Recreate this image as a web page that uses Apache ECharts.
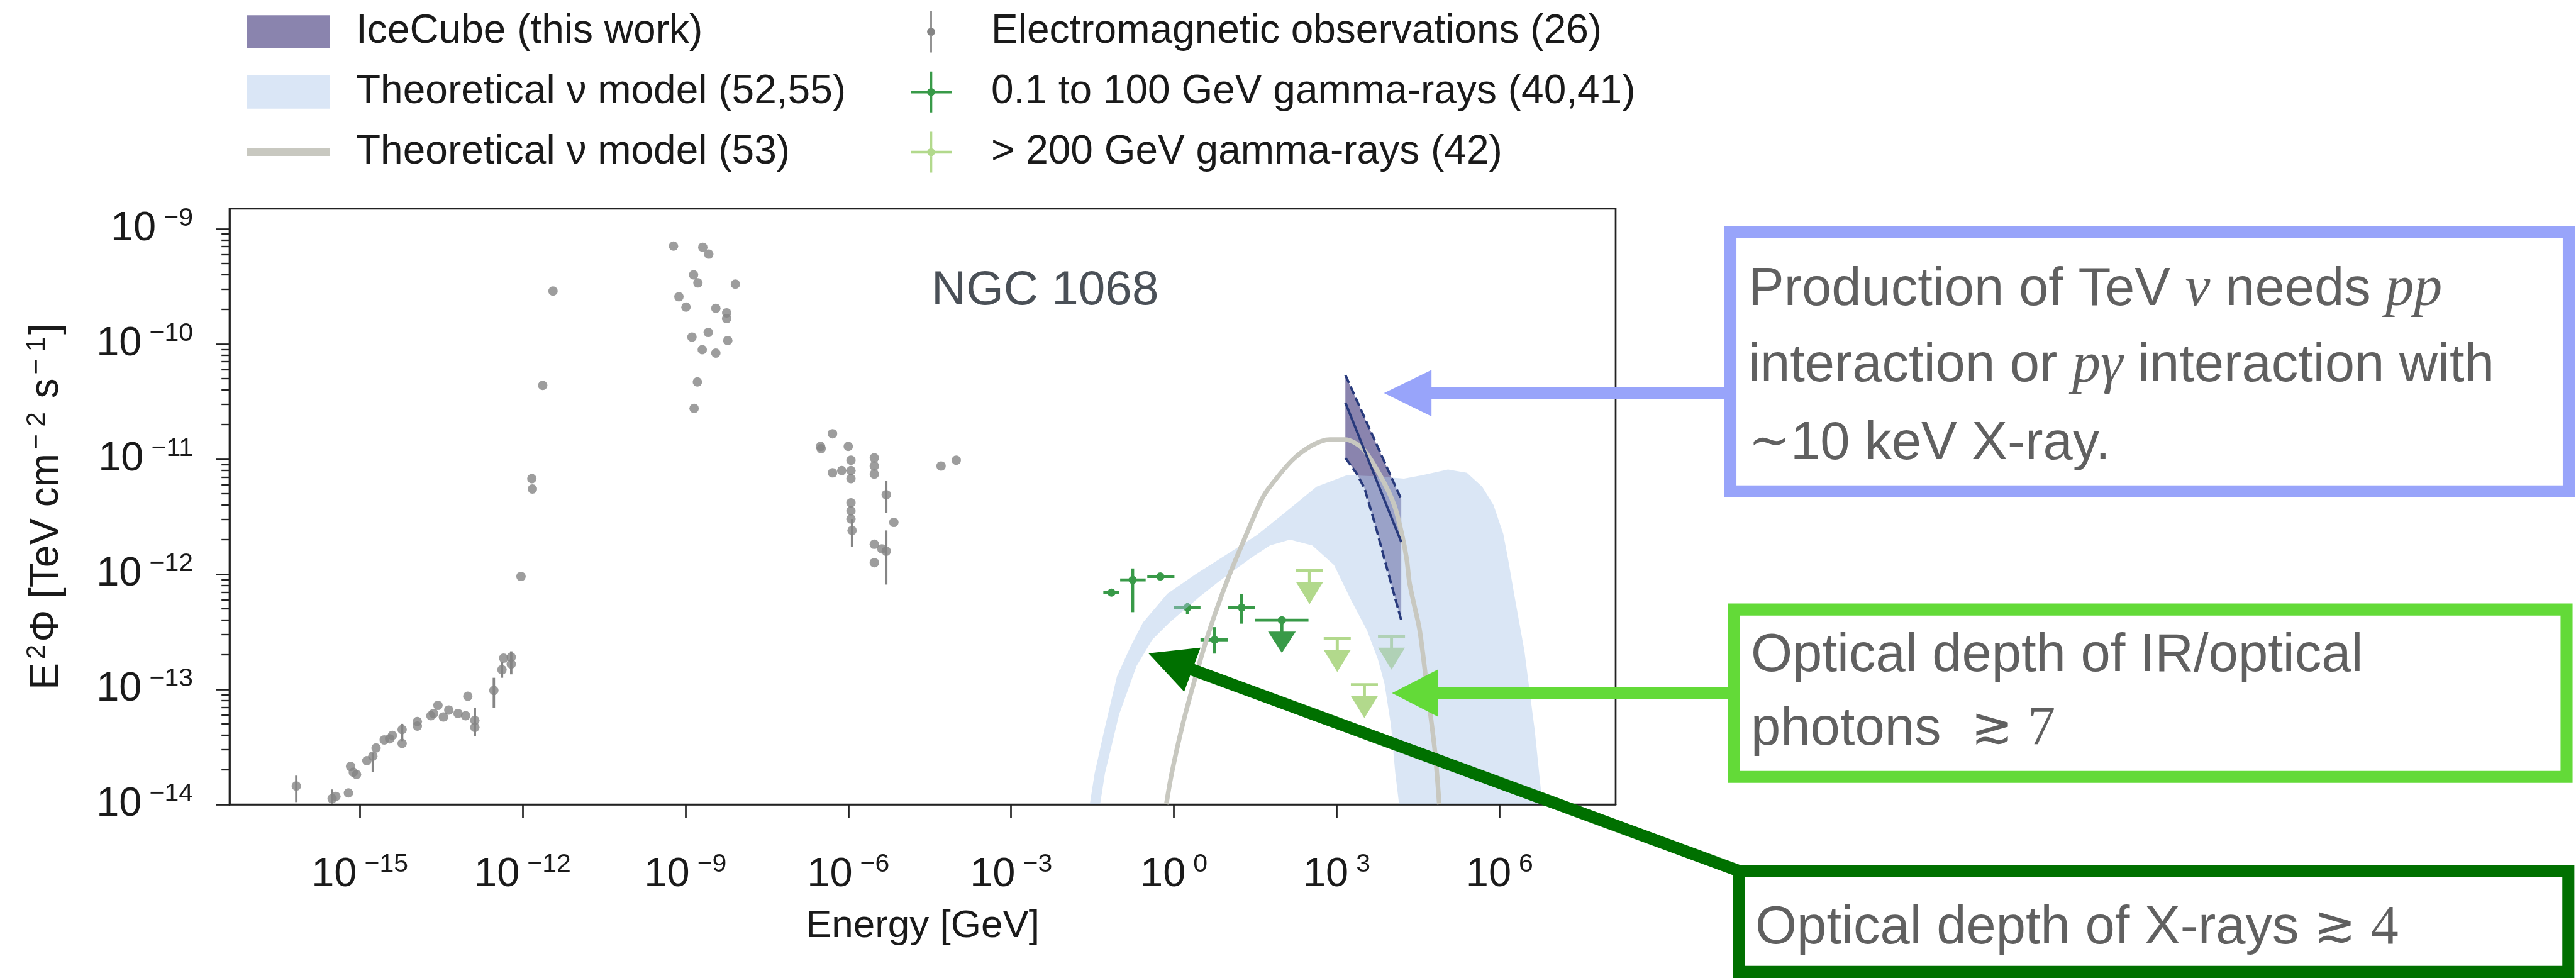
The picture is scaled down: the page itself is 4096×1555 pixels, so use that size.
<!DOCTYPE html>
<html><head><meta charset="utf-8">
<script src="https://cdn.jsdelivr.net/npm/echarts@6/dist/echarts.min.js"></script>
<style>html,body{margin:0;padding:0;background:#fff}#c{width:4096px;height:1555px}</style>
</head><body><div id="c"></div>
<script>
// ===== DATA (log10 values) =====
const xTickExp = [-15, -12, -9, -6, -3, 0, 3, 6];
const yTickExp = [-14, -13, -12, -11, -10, -9];

// Electromagnetic observations: log10(E/GeV), log10(E^2 Phi / TeV cm^-2 s^-1)
const emLogE = [-16.17,-15.51,-15.44,-15.21,-15.17,-15.12,-15.06,-14.87,-14.76,-14.70,-14.55,-14.45,-14.40,-14.22,-14.22,-13.94,-13.94,-13.69,-13.64,-13.56,-13.46,-13.36,-13.19,-13.05,-13.01,-12.88,-12.88,-12.53,-12.38,-12.35,-12.21,-12.21,-12.03,-11.83,-11.82,-11.63,-11.44,
  -9.22,-8.68,-8.57,-8.85,-8.77,-8.08,-9.12,-8.99,-8.44,-8.24,-8.24,-8.88,-8.58,-8.22,-8.69,-8.44,-8.78,-8.84,
  -6.51,-6.50,-6.29,-6.00,-6.29,-6.12,-5.95,-5.95,-5.95,-5.95,-5.95,-5.95,-5.93,-5.52,-5.52,-5.52,-5.30,-5.16,-5.52,-5.38,-5.30,-5.52,-4.29,-4.01];
const emLogF = [-13.84,-13.95,-13.93,-13.90,-13.67,-13.72,-13.74,-13.62,-13.58,-13.51,-13.44,-13.43,-13.40,-13.35,-13.47,-13.28,-13.32,-13.23,-13.21,-13.14,-13.24,-13.18,-13.21,-13.23,-13.06,-13.27,-13.33,-13.01,-12.83,-12.73,-12.72,-12.78,-12.02,-11.17,-11.26,-10.36,-9.54,
  -9.15,-9.16,-9.22,-9.40,-9.47,-9.48,-9.59,-9.68,-9.69,-9.73,-9.78,-9.94,-9.90,-9.97,-10.05,-10.08,-10.33,-10.56,
  -10.89,-10.91,-10.78,-10.89,-11.12,-11.10,-11.01,-11.10,-11.17,-11.38,-11.45,-11.52,-11.62,-10.99,-11.06,-11.13,-11.31,-11.55,-11.74,-11.78,-11.80,-11.90,-11.06,-11.01];
const emErrLogE = [-16.17,-15.51,-14.76,-14.22,-12.88,-12.53,-12.38,-12.21,-5.93,-5.30,-5.30];
const emErrLo   = [-13.98,-14.00,-13.72,-13.45,-13.41,-13.16,-12.90,-12.87,-11.76,-11.47,-12.09];
const emErrHi   = [-13.75,-13.87,-13.55,-13.30,-13.16,-12.90,-12.76,-12.67,-11.52,-11.19,-11.62];

// 0.1 to 100 GeV gamma-rays
const fermiLogE   = [-1.15,-0.76,-0.25, 0.25, 0.75, 1.25];
const fermiLogF   = [-12.16,-12.05,-12.02,-12.29,-12.57,-12.29];
const fermiLogELo = [-1.30,-0.99,-0.49, 0.00, 0.49, 1.00];
const fermiLogEHi = [-1.01,-0.52, 0.01, 0.49, 1.00, 1.49];
const fermiLogFLo = [-12.16,-12.33,-12.02,-12.35,-12.69,-12.43];
const fermiLogFHi = [-12.16,-11.95,-12.02,-12.25,-12.46,-12.17];
const fermiUlLogE = [1.99], fermiUlLogF = [-12.40], fermiUlLogELo = [1.49], fermiUlLogEHi = [2.48];

// > 200 GeV gamma-ray upper limits
const vheUlLogE = [2.50, 3.01, 3.51, 4.01];
const vheUlLogF = [-11.97,-12.56,-12.96,-12.54];

// IceCube (this work)
const icUpperLogE = [3.16, 4.19];
const icUpperLogF = [-10.27, -11.35];
const icBestLogE  = [3.16, 4.19];
const icBestLogF  = [-10.51, -11.72];
const icLowerLogE = [3.16, 3.36, 3.51, 3.71, 3.88, 4.09, 4.19];
const icLowerLogF = [-10.99,-11.12,-11.25,-11.57,-11.87,-12.23,-12.40];

// Theoretical nu model (52,55) band
const bandUpperLogE = [-1.55,-1.46,-1.29,-1.05,-0.80,-0.57,-0.12,0.40,0.97,1.53,2.06,2.63,3.19,3.71,4.24,4.58,5.05,5.40,5.68,5.89,6.07,6.17,6.28,6.46,6.65,6.79];
const bandUpperLogF = [-14.0,-13.73,-13.37,-12.89,-12.63,-12.42,-12.17,-12.00,-11.83,-11.66,-11.46,-11.24,-11.14,-11.15,-11.17,-11.14,-11.09,-11.12,-11.24,-11.40,-11.65,-11.90,-12.20,-12.67,-13.36,-14.0];
const bandLowerLogE = [-1.36,-1.27,-1.01,-0.69,-0.40,-0.08,0.49,0.81,1.13,1.42,1.77,2.14,2.55,2.95,3.27,3.56,3.76,3.88,4.00,4.08,4.15];
const bandLowerLogF = [-14.0,-13.73,-13.22,-12.80,-12.57,-12.42,-12.19,-12.07,-11.96,-11.86,-11.75,-11.70,-11.75,-11.92,-12.23,-12.49,-12.74,-12.95,-13.31,-13.73,-14.0];

// Theoretical nu model (53) curve
const grayLogE = [-0.14,-0.04,0.16,0.40,0.64,0.97,1.33,1.62,1.77,2.18,2.55,2.87,3.15,3.48,3.81,4.06,4.20,4.29,4.34,4.41,4.53,4.67,4.81,4.89];
const grayLogF = [-14.0,-13.73,-13.31,-12.89,-12.51,-12.07,-11.66,-11.35,-11.24,-11.01,-10.88,-10.83,-10.83,-10.91,-11.15,-11.40,-11.65,-11.87,-12.07,-12.23,-12.49,-13.01,-13.54,-14.0];

// ===== CHART =====
const FONT = "'Liberation Sans', Arial, Helvetica, sans-serif";
const TXT = '#1a1a1a';
const GREEN = '#389a48', LGREEN = '#b2d98c', GRAYPT = '#858585', NAVY = '#283a7c';
const N_IC = 'IceCube (this work)', N_BAND = 'Theoretical \u03bd model (52,55)', N_CURVE = 'Theoretical \u03bd model (53)';
const N_EM = 'Electromagnetic observations (26)', N_FERMI = '0.1 to 100 GeV gamma-rays (40,41)', N_VHE = '> 200 GeV gamma-rays (42)';

const zip = (a, b) => a.map((v, i) => [v, b[i]]);
function expLabel(v) { const n = Math.round(v); return '{b|10}{s|' + (n < 0 ? '\u2212' + (-n) : '' + n) + '}'; }
const tickRich = {
  b: { fontSize: 65, lineHeight: 74, fontFamily: FONT, color: TXT },
  s: { fontSize: 41, lineHeight: 41, verticalAlign: 'top', fontFamily: FONT, color: TXT, padding: [0, 0, 0, 12] }
};
const yMinor = [];
for (let n = -14; n <= -9; n++) for (let k = 2; k <= 9; k++) { const v = n + Math.log10(k); if (v < -8.826) yMinor.push(v); }

function polygonSeries(name, pts, fill, z) {
  return { name, type: 'custom', z, silent: true, data: pts, encode: { x: 0, y: 1 },
    renderItem(params, api) {
      if (params.dataIndex !== 0) return null;
      return { type: 'polygon', shape: { points: pts.map(p => api.coord(p)) }, style: { fill } };
    } };
}
const bandPts = zip(bandUpperLogE, bandUpperLogF).concat(zip(bandLowerLogE, bandLowerLogF).reverse());
const icPts = zip(icUpperLogE, icUpperLogF).concat(zip(icLowerLogE, icLowerLogF).reverse());

const ln = (a, b, c, w) => ({ type: 'line', shape: { x1: a[0], y1: a[1], x2: b[0], y2: b[1] }, style: { stroke: c, lineWidth: w } });

const fermiData = fermiLogE.map((x, i) => [x, fermiLogF[i], fermiLogELo[i], fermiLogEHi[i], fermiLogFLo[i], fermiLogFHi[i]]);
const fermiUlData = fermiUlLogE.map((x, i) => [x, fermiUlLogF[i], fermiUlLogELo[i], fermiUlLogEHi[i]]);
const vheData = zip(vheUlLogE, vheUlLogF);
const emErrData = emErrLogE.map((x, i) => [x, emErrLo[i], emErrHi[i]]);

const option = {
  animation: false,
  backgroundColor: '#ffffff',
  grid: { left: 365, right: 1527, top: 332, bottom: 276, show: true, borderColor: '#222', borderWidth: 2.7, containLabel: false, outerBoundsMode: 'none' },
  legend: [
    { orient: 'vertical', left: 387, top: 12.6, itemWidth: 132, itemHeight: 66, itemGap: 29.7, selectedMode: false,
      textStyle: { fontSize: 64, fontFamily: FONT, color: TXT, lineHeight: 66, padding: [0, 0, 0, 37] },
      data: [
        { name: N_IC, icon: 'path://M0,0H145V58H0Z', itemStyle: { color: 'rgba(60,50,120,0.6)' } },
        { name: N_BAND, icon: 'path://M0,0H145V58H0Z', itemStyle: { color: '#dae6f6' } },
        { name: N_CURVE, icon: 'path://M0,0H145V13H0Z', itemStyle: { color: '#c8c8c0' } }
      ] },
    { orient: 'vertical', left: 1443, top: 12.6, itemWidth: 65, itemHeight: 66, itemGap: 29.7, selectedMode: false,
      textStyle: { fontSize: 64, fontFamily: FONT, color: TXT, lineHeight: 66, padding: [0, 0, 0, 58] },
      data: [
        { name: N_EM, icon: 'path://M34.5,0H37.5V72H34.5Z M29,36A7,7 0 1,1 43,36A7,7 0 1,1 29,36Z', itemStyle: { color: GRAYPT } },
        { name: N_FERMI, icon: 'path://M34,0H38V72H34Z M0,33.5H72V38.5H0Z M29,36A7,7 0 1,1 43,36A7,7 0 1,1 29,36Z', itemStyle: { color: GREEN } },
        { name: N_VHE, icon: 'path://M34,0H38V72H34Z M0,33.5H72V38.5H0Z M29,36A7,7 0 1,1 43,36A7,7 0 1,1 29,36Z', itemStyle: { color: LGREEN } }
      ] }
  ],
  xAxis: [{
    type: 'value', min: -17.4, max: 8.14, position: 'bottom',
    axisLine: { show: true, onZero: false, lineStyle: { color: '#222', width: 2.7 } },
    axisTick: { show: true, inside: false, length: 22, customValues: xTickExp, lineStyle: { color: '#222', width: 2.7 } },
    axisLabel: { customValues: xTickExp, formatter: expLabel, margin: 75, rich: tickRich },
    splitLine: { show: false },
    name: 'Energy [GeV]', nameLocation: 'middle', nameGap: 163,
    nameTextStyle: { fontSize: 62, lineHeight: 62, fontFamily: FONT, color: TXT }
  }],
  yAxis: [{
    type: 'value', min: -14, max: -8.826, position: 'left',
    axisLine: { show: true, onZero: false, lineStyle: { color: '#222', width: 2.7 } },
    axisTick: { show: true, inside: false, length: 22, customValues: yTickExp, lineStyle: { color: '#222', width: 2.7 } },
    axisLabel: { customValues: yTickExp, formatter: expLabel, margin: 58, rich: tickRich },
    splitLine: { show: false },
    name: 'E{s|2}\u03a6 [TeV cm{s|\u2212 2} s{s|\u2212 1}]', nameLocation: 'middle', nameGap: 255,
    nameTextStyle: { fontSize: 64, lineHeight: 72, fontFamily: FONT, color: TXT,
      rich: { s: { fontSize: 42, lineHeight: 42, verticalAlign: 'top', fontFamily: FONT, color: TXT, padding: [0, 4, 0, 6] } } }
  }, {
    type: 'value', min: -14, max: -8.826, position: 'left',
    axisLine: { show: false, onZero: false },
    axisTick: { show: true, inside: false, length: 12.8, customValues: yMinor, lineStyle: { color: '#222', width: 2.3 } },
    axisLabel: { show: false }, splitLine: { show: false }
  }],
  series: [
    { name: N_FERMI, type: 'custom', z: 2, silent: true, data: fermiData, encode: { x: 0, y: 1 },
      renderItem(params, api) {
        const x = api.value(0), y = api.value(1);
        const c = api.coord([x, y]);
        const ch = [ln(api.coord([api.value(2), y]), api.coord([api.value(3), y]), GREEN, 4.8)];
        if (api.value(5) > api.value(4)) ch.push(ln(api.coord([x, api.value(4)]), api.coord([x, api.value(5)]), GREEN, 4.8));
        ch.push({ type: 'circle', shape: { cx: c[0], cy: c[1], r: 6.5 }, style: { fill: GREEN } });
        return { type: 'group', children: ch };
      } },
    { name: N_FERMI, type: 'custom', z: 2, silent: true, data: fermiUlData, encode: { x: 0, y: 1 },
      renderItem(params, api) {
        const x = api.value(0), y = api.value(1);
        const c = api.coord([x, y]);
        return { type: 'group', children: [
          ln(api.coord([api.value(2), y]), api.coord([api.value(3), y]), GREEN, 4.8),
          ln(c, [c[0], c[1] + 19], GREEN, 4.8),
          { type: 'polygon', shape: { points: [[c[0] - 22, c[1] + 18], [c[0] + 22, c[1] + 18], [c[0], c[1] + 52]] }, style: { fill: GREEN } },
          { type: 'circle', shape: { cx: c[0], cy: c[1], r: 6.5 }, style: { fill: GREEN } }
        ] };
      } },
    { name: N_VHE, type: 'custom', z: 2, silent: true, data: vheData, encode: { x: 0, y: 1 },
      renderItem(params, api) {
        const c = api.coord([api.value(0), api.value(1)]);
        return { type: 'group', children: [
          ln([c[0] - 21.5, c[1]], [c[0] + 21.5, c[1]], LGREEN, 4.9),
          ln(c, [c[0], c[1] + 19], LGREEN, 4.9),
          { type: 'polygon', shape: { points: [[c[0] - 21.5, c[1] + 18], [c[0] + 21.5, c[1] + 18], [c[0], c[1] + 53]] }, style: { fill: LGREEN } }
        ] };
      } },
    polygonSeries(N_IC, icPts, 'rgba(60,50,120,0.6)', 3),
    polygonSeries(N_BAND, bandPts, 'rgba(174,199,232,0.45)', 4),
    { name: N_CURVE, type: 'line', z: 5, silent: true, data: zip(grayLogE, grayLogF), showSymbol: false, smooth: 0.3,
      lineStyle: { color: '#c8c8c0', width: 7.3 } },
    { name: 'IceCube best fit', type: 'line', z: 6, silent: true, data: zip(icBestLogE, icBestLogF), showSymbol: false,
      lineStyle: { color: NAVY, width: 3.8 } },
    { name: 'IceCube upper', type: 'line', z: 6, silent: true, data: zip(icUpperLogE, icUpperLogF), showSymbol: false,
      lineStyle: { color: NAVY, width: 3.8, type: [14, 6] } },
    { name: 'IceCube lower', type: 'line', z: 6, silent: true, data: zip(icLowerLogE, icLowerLogF), showSymbol: false,
      lineStyle: { color: NAVY, width: 3.8, type: [14, 6] } },
    { name: N_EM, type: 'custom', z: 7, silent: true, data: emErrData, encode: { x: 0, y: [1, 2] },
      renderItem(params, api) {
        const x = api.value(0);
        return ln(api.coord([x, api.value(1)]), api.coord([x, api.value(2)]), GRAYPT, 3.8);
      } },
    { name: N_EM, type: 'scatter', z: 8, silent: true, data: zip(emLogE, emLogF), symbol: 'circle', symbolSize: 15,
      itemStyle: { color: GRAYPT } }
  ],
  graphic: [
    { type: 'text', z: 50, x: 1481, y: 462.5, style: { text: 'NGC 1068', fontSize: 76.5, fontFamily: FONT, fill: '#4a5057', align: 'left', verticalAlign: 'middle', textAlign: 'left', textVerticalAlign: 'middle' } },
    // blue annotation
    { type: 'polygon', z: 100, shape: { points: [[2200.6, 625.1], [2276.2, 588.3], [2276.2, 661.9]] }, style: { fill: '#98a4fa' } },
    { type: 'rect', z: 100, shape: { x: 2275, y: 615.9, width: 470, height: 18.5 }, style: { fill: '#98a4fa' } },
    { type: 'rect', z: 100, shape: { x: 2751.5, y: 369.5, width: 1333, height: 411.9 }, style: { fill: '#ffffff', stroke: '#98a4fa', lineWidth: 19.1 } },
    // light green annotation
    { type: 'polygon', z: 100, shape: { points: [[2213.4, 1102], [2286.3, 1064.6], [2286.3, 1139.4]] }, style: { fill: '#63da38' } },
    { type: 'rect', z: 100, shape: { x: 2285, y: 1092.5, width: 466, height: 19.1 }, style: { fill: '#63da38' } },
    { type: 'rect', z: 100, shape: { x: 2756.9, y: 969.1, width: 1324.1, height: 266.1 }, style: { fill: '#ffffff', stroke: '#63da38', lineWidth: 19.1 } },
    // dark green annotation
    { type: 'polygon', z: 100, shape: { points: [[1826.1, 1038.8], [1908.9, 1029.8], [1882.9, 1099.8]] }, style: { fill: '#007000' } },
    { type: 'line', z: 100, shape: { x1: 1893, y1: 1063.8, x2: 2763, y2: 1384 }, style: { stroke: '#007000', lineWidth: 19.1 } },
    { type: 'rect', z: 100, shape: { x: 2765.2, y: 1385.5, width: 1318.6, height: 159.9 }, style: { fill: '#ffffff', stroke: '#007000', lineWidth: 19.1 } }
  ].concat([
    [2780, 461.4, 'Production of TeV {i|\u03bd} needs {i|pp}'],
    [2780, 583.0, 'interaction or {i|p\u03b3} interaction with'],
    [2780, 706.1, '{m|\u223c}10 keV X-ray.'],
    [2784, 1043.7, 'Optical depth of IR/optical'],
    [2784, 1160.3, 'photons  {m|\u2273} {d|7}'],
    [2791, 1476.6, 'Optical depth of X-rays {m|\u2273} {d|4}']
  ].map(t => ({ type: 'text', z: 101, x: t[0], y: t[1], style: {
      text: t[2], fontSize: 85, fontFamily: FONT, fill: '#606060', align: 'left', verticalAlign: 'middle', textAlign: 'left', textVerticalAlign: 'middle',
      rich: {
        i: { fontSize: 90, fontFamily: "'Liberation Serif', 'DejaVu Serif', serif", fontStyle: 'italic', fill: '#606060' },
        m: { fontSize: 80, fontFamily: "'DejaVu Serif', serif", fill: '#606060' },
        d: { fontSize: 88, fontFamily: "'Liberation Serif', serif", fill: '#606060' }
      } } })))
};

const chart = echarts.init(document.getElementById('c'), null, { renderer: 'canvas', width: 4096, height: 1555 });
chart.setOption(option);
</script>
</body></html>
